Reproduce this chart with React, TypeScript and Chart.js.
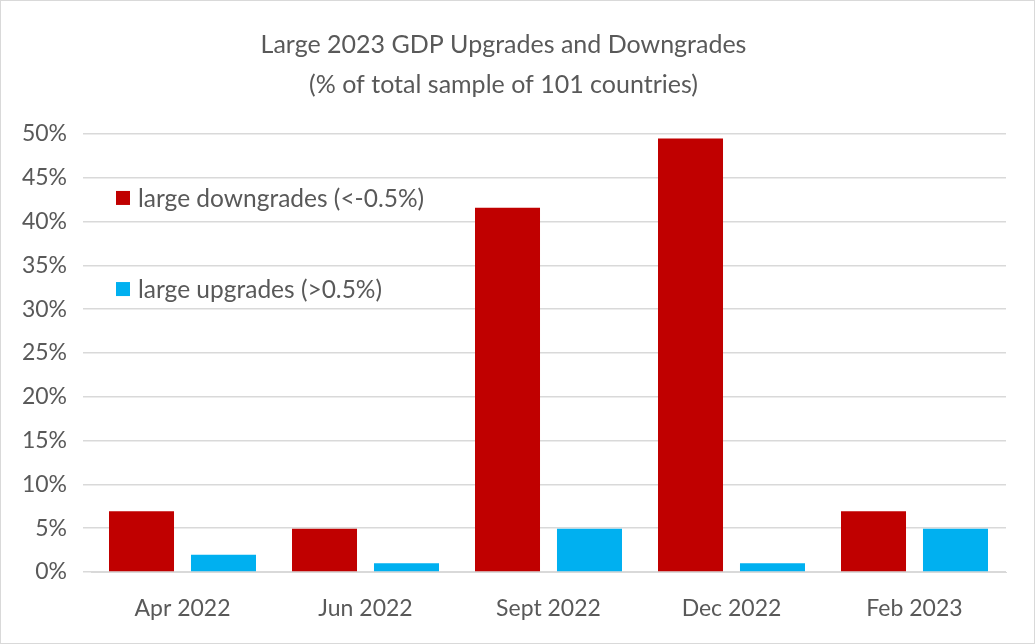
import React, { useEffect, useRef } from 'react';
import { Chart, registerables } from 'chart.js';

Chart.register(...registerables);

const categories = ['Apr 2022', 'Jun 2022', 'Sept 2022', 'Dec 2022', 'Feb 2023'];
const downgrades = [6.93, 4.95, 41.58, 49.5, 6.93];
const upgrades = [1.98, 0.99, 4.95, 0.99, 4.95];
const seriesLabels = ['large downgrades (<-0.5%)', 'large upgrades (>0.5%)'];
const titleLines = ['Large 2023 GDP Upgrades and Downgrades', '(% of total sample of 101 countries)'];

const FONT = 'Lato, "Open Sans", sans-serif';
const TEXT = '#595959';

// legend sits inside the plot, drawn by hand
const innerLegend = {
  id: 'innerLegend',
  afterDraw(chart: Chart) {
    const ctx = chart.ctx;
    const left = chart.chartArea.left + 25;
    const y = chart.scales.y;
    const rows = [
      { y: y.getPixelForValue(42.7), ds: chart.data.datasets[0] },
      { y: y.getPixelForValue(32.3), ds: chart.data.datasets[1] }
    ];
    ctx.save();
    ctx.font = `24.5px ${FONT}`;
    ctx.textBaseline = 'middle';
    rows.forEach((r) => {
      ctx.fillStyle = r.ds.backgroundColor as string;
      ctx.fillRect(left, r.y - 7, 14, 14);
      ctx.fillStyle = TEXT;
      ctx.fillText(r.ds.label as string, left + 22, r.y + 1);
    });
    ctx.restore();
  }
};

export default function App() {
  const canvasRef = useRef<HTMLCanvasElement | null>(null);

  useEffect(() => {
    if (!canvasRef.current) return;
    const chart = new Chart(canvasRef.current, {
      type: 'bar',
      data: {
        labels: categories,
        datasets: [
          {
            label: seriesLabels[0],
            data: downgrades,
            backgroundColor: '#C00000',
            categoryPercentage: 0.896,
            barPercentage: 0.793
          },
          {
            label: seriesLabels[1],
            data: upgrades,
            backgroundColor: '#00B0F0',
            categoryPercentage: 0.896,
            barPercentage: 0.793
          }
        ]
      },
      options: {
        animation: false,
        responsive: true,
        maintainAspectRatio: false,
        layout: {
          padding: { left: 0, right: 28, top: 24, bottom: 0 }
        },
        plugins: {
          legend: { display: false },
          tooltip: { enabled: false },
          title: {
            display: true,
            text: titleLines,
            color: TEXT,
            font: { family: FONT, size: 25, weight: 'normal', lineHeight: 1.6 },
            padding: { top: 0, bottom: 29 }
          }
        },
        scales: {
          x: {
            afterFit: (s) => {
              s.height = 71;
            },
            grid: { display: false },
            border: { color: '#d9d9d9' },
            ticks: {
              color: TEXT,
              font: { family: FONT, size: 23 },
              padding: 15
            }
          },
          y: {
            min: 0,
            max: 50,
            afterFit: (s) => {
              s.width = 90;
            },
            border: { display: false },
            grid: { color: '#d9d9d9', lineWidth: 1.5 },
            ticks: {
              stepSize: 5,
              color: TEXT,
              font: { family: FONT, size: 23 },
              padding: 16,
              callback: (v) => `${v}%`
            }
          }
        }
      },
      plugins: [innerLegend]
    });
    return () => chart.destroy();
  }, []);

  return (
    <div
      style={{
        position: 'fixed',
        left: 0,
        top: 0,
        width: 1035,
        height: 644,
        boxSizing: 'border-box',
        border: '1px solid #d9d9d9',
        background: '#fff'
      }}
    >
      <canvas ref={canvasRef} />
    </div>
  );
}
